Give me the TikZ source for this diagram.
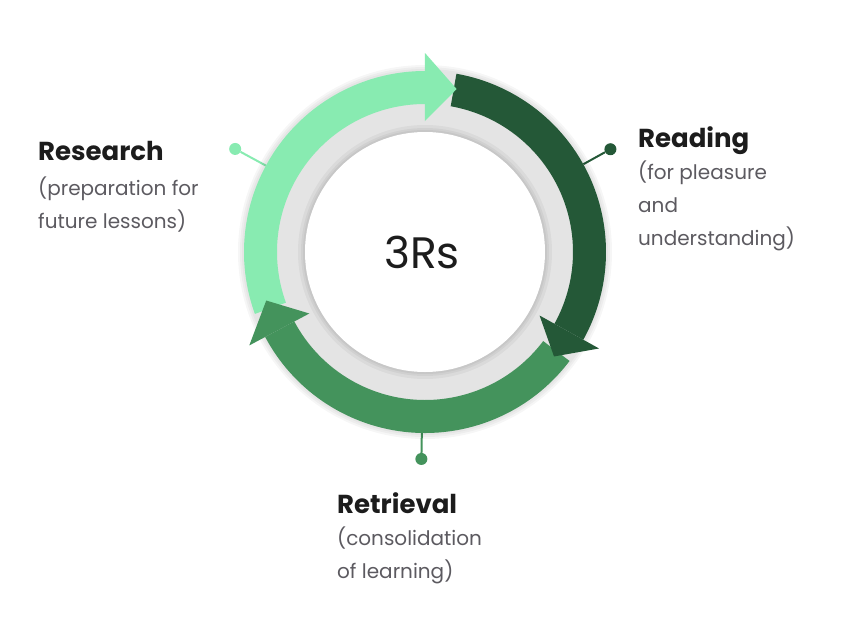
\documentclass[tikz,border=0pt]{standalone}
\usepackage{fontspec}
\setmainfont{Poppins}
\usetikzlibrary{positioning}
\definecolor{lightgrn}{HTML}{88EBB1}
\definecolor{darkgrn}{HTML}{245837}
\definecolor{midgrn}{HTML}{44935C}
\definecolor{ringgray}{HTML}{E4E4E4}
\definecolor{titlecol}{HTML}{1C1C1C}
\definecolor{desccol}{HTML}{5C5A60}
\tikzset{
  labeltitle/.style={anchor=base west, inner sep=0pt, text=titlecol, font=\bfseries\fontsize{26}{30}\selectfont},
  labeldesc/.style={anchor=base west, inner sep=0pt, align=left, text=desccol, font=\fontsize{20}{33}\selectfont},
  pindot/.style={circle, fill=#1, minimum size=12pt, inner sep=0pt},
  pinline/.style={draw=#1, line width=2pt}
}
\begin{document}
\begin{tikzpicture}
\useasboundingbox (-425pt,-386pt) rectangle (427pt,252pt);
% pins
\coordinate (rsfoot) at (151.5:175pt);
\node [pindot=lightgrn] (rsdot) at (151.5:216pt) {};
\draw [pinline=lightgrn] (rsfoot) -- (rsdot);
\coordinate (rdfoot) at (29:175pt);
\node [pindot=darkgrn] (rddot) at (29:212pt) {};
\draw [pinline=darkgrn] (rdfoot) -- (rddot);
\coordinate (rtfoot) at (-91:175pt);
\node [pindot=midgrn] (rtdot) at (-91:207pt) {};
\draw [pinline=midgrn] (rtfoot) -- (rtdot);
% soft shadow round the ring
\foreach \r in {187,185,183}
  \fill [black, opacity=0.035] (0,0) circle (\r pt);
\fill [ringgray] (0,0) circle (181pt);
% bands
\foreach \col/\s/\b in {lightgrn/200/90, darkgrn/80/-29, midgrn/-37/-152}
  \fill [\col] (\s:181pt) arc [start angle=\s, end angle=\b, radius=181pt]
    -- (\b:148pt) arc [start angle=\b, end angle=\s, radius=148pt] -- cycle;
% heads
\foreach \col/\b/\t in {lightgrn/90/79, darkgrn/-29/-39, midgrn/-152/-163}
  \fill [\col] (\b:199pt) -- (\t:166pt) -- (\b:131pt) -- cycle;
% inner disc
\foreach \r in {127,124,122}
  \fill [black, opacity=0.045] (0,0) circle (\r pt);
\fill [white] (0,0) circle (120pt);
\node [text=titlecol, font=\fontsize{44}{50}\selectfont] (core) at (-3pt,0pt) {3Rs};
% labels
\node [labeltitle] (research) at (-387pt,92pt) {Research};
\node [labeldesc] (researchtxt) at (-387pt,24pt) {(preparation for\\future lessons)};
\node [labeltitle] (reading) at (213pt,105pt) {Reading};
\node [labeldesc] (readingtxt) at (213pt,7pt) {(for pleasure\\and\\understanding)};
\node [labeltitle] (retrieval) at (-88pt,-261pt) {Retrieval};
\node [labeldesc] (retrievaltxt) at (-88pt,-326pt) {(consolidation\\of learning)};
\end{tikzpicture}
\end{document}
